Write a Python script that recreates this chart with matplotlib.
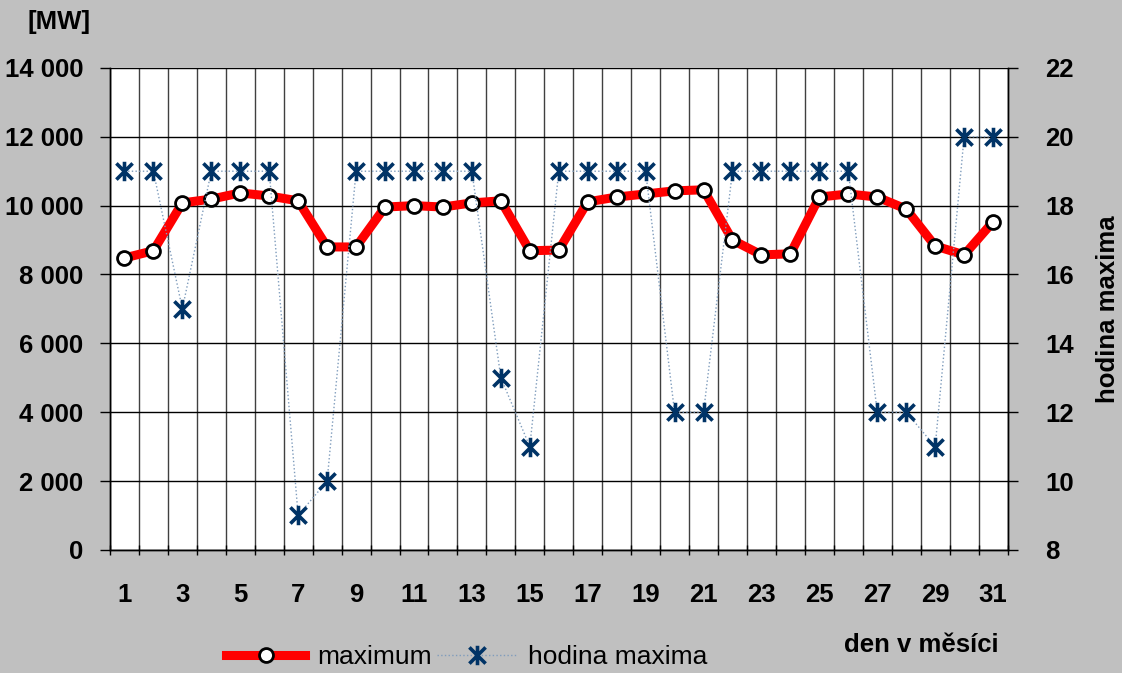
import numpy as np
import matplotlib
matplotlib.use("Agg")
import matplotlib.pyplot as plt
from matplotlib.path import Path

plt.rcParams['font.family'] = ['Liberation Sans', 'DejaVu Sans']

# data
days = list(range(1, 32))
maximum = [8480, 8690, 10080, 10190, 10370, 10280, 10140, 8800, 8800, 9960,
           10000, 9960, 10080, 10140, 8690, 8710, 10110, 10250, 10340, 10430,
           10460, 9000, 8570, 8600, 10250, 10340, 10250, 9900, 8830, 8570, 9530]
hodina = [19, 19, 15, 19, 19, 19, 9, 10, 19, 19, 19, 19, 19, 13, 11, 19,
          19, 19, 19, 12, 12, 19, 19, 19, 19, 19, 12, 12, 11, 20, 20]
left_ticks = list(range(0, 14001, 2000))
right_ticks = list(range(8, 23, 2))

def fmt_thousands(v):
	return f"{v:,}".replace(",", " ")

# asterisk marker: X plus vertical bar
star = Path([(-1, -1), (1, 1), (-1, 1), (1, -1), (0, -1.2), (0, 1.2)],
            [Path.MOVETO, Path.LINETO, Path.MOVETO, Path.LINETO, Path.MOVETO, Path.LINETO])

fig = plt.figure(figsize=(11.22, 6.73), dpi=100, facecolor='#c0c0c0')
ax = fig.add_axes([0.098, 0.183, 0.80, 0.716])
ax.set_facecolor('white')
ax2 = ax.twinx()

navy = '#003366'
l1, = ax.plot(days, maximum, color='#ff0000', lw=6.5, marker='o', ms=10,
              mfc='white', mec='black', mew=2, zorder=3, label='maximum')
l2, = ax2.plot(days, hodina, color='#7f9cbc', lw=1, ls=':', marker=star, ms=14,
               mec=navy, mew=2.6, label='hodina maxima')

ax.set_xlim(0.5, 31.5)
ax.set_ylim(0, 14000)
ax2.set_ylim(8, 22)

fs = 18.5
ax.set_yticks(left_ticks)
ax.set_yticklabels([fmt_thousands(v) for v in left_ticks], fontsize=fs, fontweight='bold')
ax2.set_yticks(right_ticks)
ax2.set_yticklabels([str(v) for v in right_ticks], fontsize=fs, fontweight='bold')

ax.set_xticks(days)
ax.set_xticklabels([str(d) if d % 2 == 1 else '' for d in days], fontsize=fs, fontweight='bold')
ax.set_xticks(np.arange(0.5, 32, 1), minor=True)
ax.tick_params(axis='x', which='major', length=0, pad=24)
ax.tick_params(axis='x', which='minor', length=7, width=1, direction='inout')
ax.tick_params(axis='y', length=7, width=1, direction='out', pad=12)
ax2.tick_params(axis='y', length=7, width=1, direction='out', pad=20)

ax.grid(True, axis='y', color='black', lw=1)
ax.grid(True, axis='x', which='minor', color='#404040', lw=1)
ax.set_axisbelow(True)

for a in (ax, ax2):
	a.spines['top'].set_visible(False)
	for s in ('left', 'right', 'bottom'):
		a.spines[s].set_color('black')
		a.spines[s].set_linewidth(1)

fig.text(0.053, 0.968, '[MW]', fontsize=fs, fontweight='bold', ha='center', va='center')
ax2.set_ylabel('hodina maxima', fontsize=fs, fontweight='bold', labelpad=16)
fig.text(0.821, 0.042, 'den v měsíci', fontsize=fs, fontweight='bold', ha='center', va='center')

fig.legend(handles=[l1, l2], loc='center', bbox_to_anchor=(0.416, 0.024), ncol=2,
           frameon=False, fontsize=19, handlelength=3.0, handletextpad=0.45,
           columnspacing=0.2, borderpad=0)

fig.savefig('out.png', dpi=100, facecolor=fig.get_facecolor())
